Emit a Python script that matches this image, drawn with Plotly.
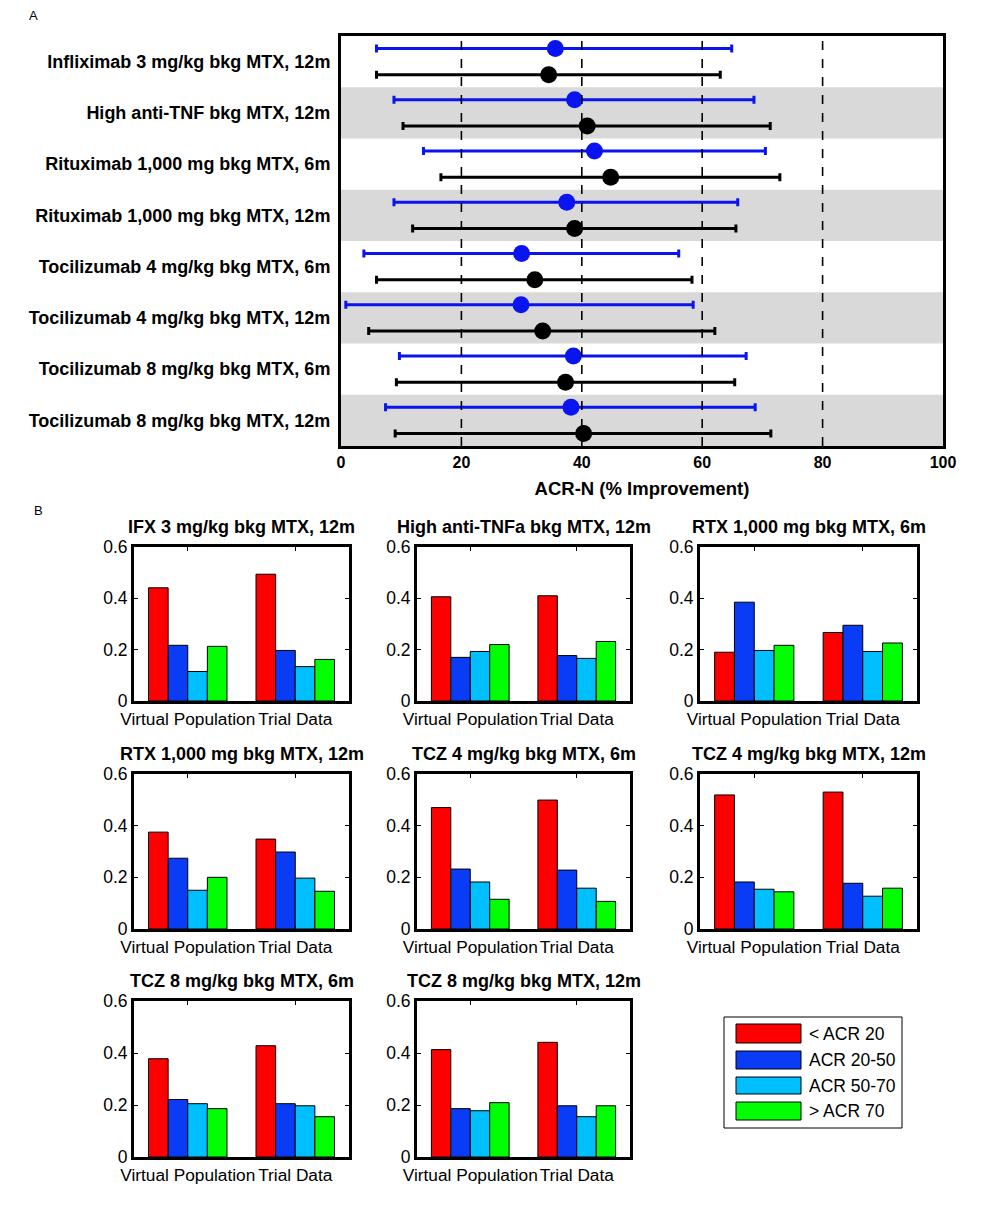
import plotly.graph_objects as go

W, H = 1004, 1218

# ---------------- Panel A data ----------------
treatments = [
    "Infliximab 3 mg/kg bkg MTX, 12m",
    "High anti-TNF bkg MTX, 12m",
    "Rituximab 1,000 mg bkg MTX, 6m",
    "Rituximab 1,000 mg bkg MTX, 12m",
    "Tocilizumab 4 mg/kg bkg MTX, 6m",
    "Tocilizumab 4 mg/kg bkg MTX, 12m",
    "Tocilizumab 8 mg/kg bkg MTX, 6m",
    "Tocilizumab 8 mg/kg bkg MTX, 12m",
]
vp_mean = [35.6, 38.8, 42.1, 37.5, 30.0, 29.9, 38.6, 38.2]
vp_low = [5.9, 8.8, 13.7, 8.8, 3.8, 0.8, 9.7, 7.4]
vp_high = [64.9, 68.6, 70.5, 65.9, 56.1, 58.5, 67.3, 68.8]
trial_mean = [34.5, 40.9, 44.8, 38.8, 32.2, 33.5, 37.3, 40.3]
trial_low = [5.9, 10.3, 16.6, 11.9, 5.9, 4.6, 9.2, 9.0]
trial_high = [63.0, 71.3, 72.9, 65.6, 58.3, 62.1, 65.4, 71.4]
x_ticks_a = [0, 20, 40, 60, 80, 100]
ref_lines = [20, 40, 60, 80]

# ---------------- Panel B data ----------------
panel_titles = [
    "IFX 3 mg/kg bkg MTX, 12m",
    "High anti-TNFa bkg MTX, 12m",
    "RTX 1,000 mg bkg MTX, 6m",
    "RTX 1,000 mg bkg MTX, 12m",
    "TCZ 4 mg/kg bkg MTX, 6m",
    "TCZ 4 mg/kg bkg MTX, 12m",
    "TCZ 8 mg/kg bkg MTX, 6m",
    "TCZ 8 mg/kg bkg MTX, 12m",
]
groups = ["Virtual Population", "Trial Data"]
categories = ["< ACR 20", "ACR 20-50", "ACR 50-70", "> ACR 70"]
# values per panel: [VP, Trial]
acr_lt20 = [[0.441, 0.494], [0.406, 0.410], [0.190, 0.267], [0.375, 0.348],
            [0.470, 0.499], [0.519, 0.530], [0.378, 0.428], [0.413, 0.441]]
acr_20_50 = [[0.217, 0.197], [0.170, 0.177], [0.385, 0.295], [0.274, 0.298],
             [0.232, 0.228], [0.182, 0.177], [0.221, 0.205], [0.186, 0.197]]
acr_50_70 = [[0.115, 0.134], [0.193, 0.166], [0.197, 0.193], [0.150, 0.197],
             [0.182, 0.158], [0.154, 0.127], [0.205, 0.197], [0.178, 0.155]]
acr_gt70 = [[0.213, 0.162], [0.220, 0.232], [0.217, 0.226], [0.200, 0.146],
            [0.115, 0.107], [0.144, 0.158], [0.186, 0.155], [0.209, 0.197]]
y_ticks_b = [0, 0.2, 0.4, 0.6]

cat_colors = ["#ff0000", "#0a3cf5", "#00bfff", "#00ff00"]
series = [acr_lt20, acr_20_50, acr_50_70, acr_gt70]

FONT = "Liberation Sans, Arial, sans-serif"
PAGE_OFF = 8  # default body margin of the html page


def px_x(p):
    return (p - PAGE_OFF) / W


def px_y(p):
    return 1 - (p - PAGE_OFF) / H


fig = go.Figure()

# ---------------- Panel A ----------------
n = len(treatments)
rows_y = [n - i - 0.5 for i in range(n)]
off = 0.255

fig.add_trace(go.Scatter(
    x=vp_mean, y=[r + off for r in rows_y], mode="markers",
    marker=dict(color="#0a14f0", size=17),
    error_x=dict(type="data", symmetric=False,
                 array=[h - m for h, m in zip(vp_high, vp_mean)],
                 arrayminus=[m - l for m, l in zip(vp_mean, vp_low)],
                 color="#0a14f0", thickness=3, width=4),
    showlegend=False, xaxis="x", yaxis="y"))
fig.add_trace(go.Scatter(
    x=trial_mean, y=[r - off for r in rows_y], mode="markers",
    marker=dict(color="black", size=17),
    error_x=dict(type="data", symmetric=False,
                 array=[h - m for h, m in zip(trial_high, trial_mean)],
                 arrayminus=[m - l for m, l in zip(trial_mean, trial_low)],
                 color="black", thickness=3, width=4),
    showlegend=False, xaxis="x", yaxis="y"))

shapes = []
for i in range(n):
    if i % 2 == 1:
        shapes.append(dict(type="rect", xref="x", yref="y", x0=0, x1=100,
                           y0=n - i - 1, y1=n - i, fillcolor="#d9d9d9",
                           line=dict(width=0), layer="below"))
for v in ref_lines:
    shapes.append(dict(type="line", xref="x", yref="y", x0=v, x1=v, y0=0, y1=n,
                       line=dict(color="black", width=1.6, dash="dash"),
                       layer="above"))

layout = dict(
    template="none",
    width=W, height=H, margin=dict(l=0, r=0, t=0, b=0, autoexpand=False),
    paper_bgcolor="white", plot_bgcolor="white",
    font=dict(family=FONT, color="black"),
    showlegend=False,
    bargap=0.27, bargroupgap=0,
    xaxis=dict(domain=[px_x(341), px_x(943)], anchor="y", range=[0, 100],
               tickvals=x_ticks_a, ticktext=[f"<b>{t}</b>" for t in x_ticks_a],
               tickfont=dict(size=16), showgrid=False, zeroline=False,
               showline=True, linewidth=3, linecolor="black", mirror=True,
               ticks="", automargin=False, tickangle=0,
               title=dict(text="<b>ACR-N (% Improvement)</b>",
                          font=dict(size=18.5), standoff=12)),
    yaxis=dict(domain=[px_y(446), px_y(36)], anchor="x", range=[0, n],
               tickvals=rows_y, ticktext=[f"<b>{t}</b>" for t in treatments],
               tickfont=dict(size=18), showgrid=False, zeroline=False,
               showline=True, linewidth=3, linecolor="black", mirror=True,
               ticks="", ticklabelstandoff=4, automargin=False),
)

# ---------------- Panel B ----------------
cols_px = [(134, 349), (417, 630), (700, 917)]
rows_px = [(547, 701), (774, 929), (1001, 1157)]
annotations = [
    dict(text="A", x=px_x(33), y=px_y(15), xref="paper", yref="paper",
         showarrow=False, font=dict(size=13), xanchor="center", yanchor="middle"),
    dict(text="B", x=px_x(38), y=px_y(510), xref="paper", yref="paper",
         showarrow=False, font=dict(size=13), xanchor="center", yanchor="middle"),
]

for k, title in enumerate(panel_titles):
    r, c = divmod(k, 3)
    ax = k + 2
    xa, ya = f"x{ax}", f"y{ax}"
    for s, cat in enumerate(categories):
        fig.add_trace(go.Bar(
            x=[1, 2], y=series[s][k], name=cat, offsetgroup=str(s),
            marker=dict(color=cat_colors[s], line=dict(color="black", width=1)),
            showlegend=False, xaxis=xa, yaxis=ya))
    x0, x1 = cols_px[c]
    y0, y1 = rows_px[r]
    layout[f"xaxis{ax}"] = dict(
        domain=[px_x(x0), px_x(x1)], anchor=ya, range=[0.5, 2.5],
        tickvals=[1, 2], ticktext=groups, tickfont=dict(size=17.3),
        tickangle=0, automargin=False,
        showgrid=False, zeroline=False, showline=True, linewidth=3,
        linecolor="black", mirror="ticks", ticks="inside", ticklen=4,
        tickcolor="black")
    layout[f"yaxis{ax}"] = dict(
        domain=[px_y(y1), px_y(y0)], anchor=xa, range=[0, 0.6],
        tickvals=y_ticks_b, ticktext=[f"{t:g}" for t in y_ticks_b],
        tickfont=dict(size=17.5), showgrid=False, zeroline=False,
        showline=True, linewidth=3, linecolor="black", mirror="ticks",
        ticks="inside", ticklen=4, tickcolor="black", ticklabelstandoff=0,
        automargin=False)
    annotations.append(dict(
        text=f"<b>{title}</b>", x=px_x((x0 + x1) / 2), y=px_y(y0 - 20),
        xref="paper", yref="paper", showarrow=False, font=dict(size=18),
        xanchor="center", yanchor="middle"))

# legend drawn manually
shapes.append(dict(type="rect", xref="paper", yref="paper",
                   x0=px_x(724), x1=px_x(902), y0=px_y(1128), y1=px_y(1017),
                   line=dict(color="black", width=1), fillcolor="white"))
sw_y = [(1024, 1043), (1051, 1069), (1077, 1094), (1102, 1120)]
for s, cat in enumerate(categories):
    a, b = sw_y[s]
    shapes.append(dict(type="rect", xref="paper", yref="paper",
                       x0=px_x(736), x1=px_x(801), y0=px_y(b), y1=px_y(a),
                       fillcolor=cat_colors[s], line=dict(color="black", width=1)))
    annotations.append(dict(text=cat, x=px_x(807), y=px_y((a + b) / 2),
                            xref="paper", yref="paper", showarrow=False,
                            font=dict(size=17.5), xanchor="left", yanchor="middle"))

layout["shapes"] = shapes
layout["annotations"] = annotations
fig.update_layout(**layout)
fig.write_html("out.html")
